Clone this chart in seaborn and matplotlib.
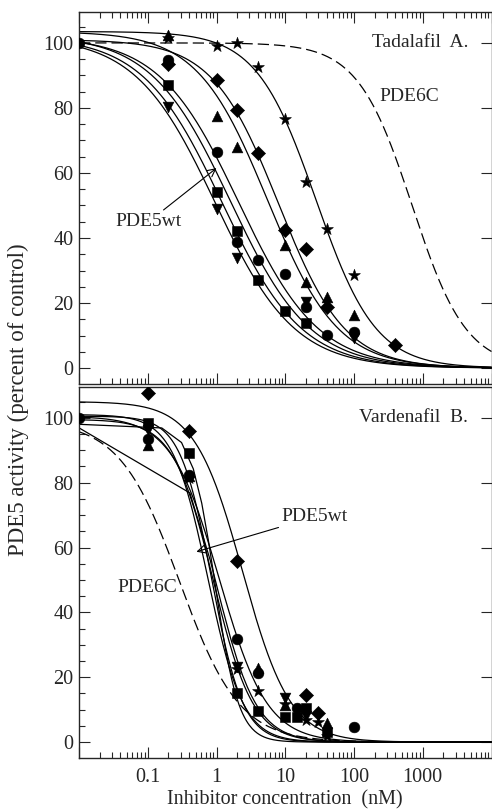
import numpy as np
import pandas as pd
import seaborn as sns
import matplotlib.pyplot as plt
from matplotlib.ticker import LogLocator, MultipleLocator, NullFormatter

# ---- Tadalafil (panel A): measured points ----
tad_conc = [0.01, 0.2, 1, 2, 4, 10, 20, 40, 100,
            0.2, 1, 2, 4, 10, 20,
            0.2, 1, 2, 20, 100,
            0.2, 1, 2, 10, 20, 40, 100,
            0.2, 1, 2, 4, 10, 20, 40, 400,
            0.2, 1, 2, 4, 10, 20, 40, 100]
tad_act = [100, 94.8, 66.5, 38.7, 33.2, 28.9, 18.9, 10.3, 11.0,
           87.1, 54.2, 42.2, 27.2, 17.5, 14.0,
           80.3, 48.9, 34.0, 20.4, 9.2,
           102.5, 77.5, 68.1, 37.8, 26.6, 22.0, 16.2,
           93.4, 88.5, 79.4, 66.0, 42.5, 36.5, 18.9, 7.1,
           101.5, 99.1, 100.0, 92.7, 76.5, 57.3, 42.7, 28.6]
tad_sym = (["circle"] * 9 + ["square"] * 6 + ["tri_down"] * 5 + ["tri_up"] * 7
           + ["diamond"] * 8 + ["star"] * 8)

# fitted curves (top, IC50 nM, Hill slope)
tad_curve = ["tri_down", "square", "wt", "circle", "tri_up", "diamond", "star"]
tad_top = [102, 102, 102.5, 102, 103.5, 101, 103.5]
tad_ic50 = [0.95, 1.2, 1.6, 2.1, 5.5, 8.0, 28.0]
tad_hill = [0.75, 0.75, 0.75, 0.75, 0.85, 0.9, 1.0]
tad_pde6c = (100, 700, 1.1)

# ---- Vardenafil (panel B): measured points ----
var_conc = [0.01, 0.1, 0.4, 2, 4, 15, 100,
            0.1, 0.4, 2, 4, 10, 15, 20, 40,
            0.1, 2, 10, 20,
            0.1, 0.4, 4, 10, 40,
            0.1, 0.4, 2, 20, 30,
            0.4, 2, 4, 10, 20, 30, 40]
var_act = [100, 93.4, 82.3, 31.7, 21.2, 10.4, 4.6,
           98.3, 89.1, 15.0, 9.7, 7.8, 7.6, 10.4, 3.2,
           96.3, 23.3, 13.5, 8.0,
           91.6, 82.0, 22.7, 11.5, 5.8,
           107.6, 96.0, 56.0, 14.5, 8.9,
           81.5, 22.5, 15.8, 11.7, 6.7, 6.3, 2.0]
var_sym = (["circle"] * 7 + ["square"] * 8 + ["tri_down"] * 4 + ["tri_up"] * 5
           + ["diamond"] * 5 + ["star"] * 7)

var_curve = ["diamond", "circle", "tri_down", "square", "wt", "star", "tri_up"]
var_top = [105, 100.5, 99.5, 100.5, 101, 97, 98]
var_ic50 = [2.4, 1.1, 0.9, 0.85, 0.75, 1.0, 0.95]
var_hill = [1.25, 1.25, 1.5, 1.9, 1.7, 1.5, 2.5]
# two of the original fits were drawn on a coarse linear grid
var_step = [None, None, None, None, None, 0.4, 0.15]
var_pde6c = (99, 0.29, 1.0)

markers = {"circle": "o", "square": "s", "tri_down": "v", "tri_up": "^",
           "diamond": "D", "star": "*"}
msize = {"circle": 60, "square": 50, "tri_down": 60, "tri_up": 60,
         "diamond": 52, "star": 80}

sns.set_style("ticks")
plt.rcParams['font.family'] = ['Liberation Serif', 'DejaVu Serif']
plt.rcParams['font.size'] = 14


def hill(x, top, ic50, h):
    return top / (1 + (x / ic50) ** h)


def draw_panel(ax, conc, act, sym, tops, ic50s, hills, pde6c, steps=None):
    xs = np.logspace(-2, 4, 600)
    for i in range(len(tops)):
        if steps is not None and steps[i] is not None:
            x = np.arange(0.01, 1e4, steps[i])
        else:
            x = xs
        sns.lineplot(x=x, y=hill(x, tops[i], ic50s[i], hills[i]), ax=ax,
                     color="black", lw=0.9, estimator=None, sort=False)
    sns.lineplot(x=xs, y=hill(xs, *pde6c), ax=ax, color="black", lw=0.9,
                 estimator=None, sort=False, dashes=False,
                 linestyle=(0, (9, 4)))
    df = pd.DataFrame({"conc": conc, "act": act, "sym": sym})
    for s, grp in df.groupby("sym"):
        sns.scatterplot(data=grp, x="conc", y="act", marker=markers[s],
                        s=msize[s], color="black", edgecolor="black",
                        linewidth=0.4, ax=ax, zorder=3, legend=False)
    ax.set_xscale("log")
    ax.set_xlim(0.01, 1e4)
    ax.set_ylim(-4.9, 109.5)
    ax.set_yticks([0, 20, 40, 60, 80, 100])
    ax.yaxis.set_minor_locator(MultipleLocator(5))
    ax.set_xticks([0.01, 0.1, 1, 10, 100, 1000, 10000])
    ax.xaxis.set_minor_locator(LogLocator(base=10, subs=np.arange(2, 10)))
    ax.xaxis.set_minor_formatter(NullFormatter())
    ax.tick_params(which="both", direction="in", width=0.8, labelsize=14.5)
    ax.tick_params(which="major", length=8)
    ax.tick_params(which="minor", length=4)
    ax.tick_params(axis="y", which="major", right=True, pad=4)
    ax.tick_params(axis="y", which="minor", right=False)
    ax.set_xlabel("")
    ax.set_ylabel("")
    for sp in ax.spines.values():
        sp.set_linewidth(1.0)
        sp.set_visible(True)


fig = plt.figure(figsize=(4.92, 8.10), dpi=100)
ax1 = fig.add_axes([79 / 492, 1 - 384 / 810, 412.5 / 492, 372 / 810])
ax2 = fig.add_axes([79 / 492, 1 - 758 / 810, 412.5 / 492, 371 / 810])

draw_panel(ax1, tad_conc, tad_act, tad_sym, tad_top, tad_ic50, tad_hill, tad_pde6c)
draw_panel(ax2, var_conc, var_act, var_sym, var_top, var_ic50, var_hill,
           var_pde6c, steps=var_step)

ax1.tick_params(axis="x", which="both", top=True, labelbottom=False)
ax2.tick_params(axis="x", which="both", top=False, pad=7)
ax2.set_xticklabels(["", "0.1", "1", "10", "100", "1000", ""])

ax1.text(4600, 100, "Tadalafil  A.", ha="right", va="center")
ax1.text(630, 83.4, "PDE6C", ha="center", va="center")
ax1.annotate("PDE5wt", xy=(1.0, 61.5), xytext=(0.103, 45), ha="center",
             va="center", arrowprops=dict(arrowstyle="->", lw=0.8,
                                          color="black", shrinkA=0, shrinkB=0,
                                          mutation_scale=14))

ax2.text(4600, 100, "Vardenafil  B.", ha="right", va="center")
ax2.text(0.097, 47.8, "PDE6C", ha="center", va="center")
ax2.annotate("PDE5wt", xy=(0.51, 58.7), xytext=(27, 69.5), ha="center",
             va="center", arrowprops=dict(arrowstyle="->", lw=0.8,
                                          color="black", shrinkA=0, shrinkB=0,
                                          mutation_scale=14))

fig.text(285 / 492, 1 - 799.5 / 810, "Inhibitor concentration  (nM)",
         ha="center", va="center", fontsize=14.5)
fig.text(18 / 492, 1 - 400 / 810, "PDE5 activity (percent of control)",
         rotation=90, ha="center", va="center", fontsize=16.5)

fig.savefig("out.png", dpi=100)
